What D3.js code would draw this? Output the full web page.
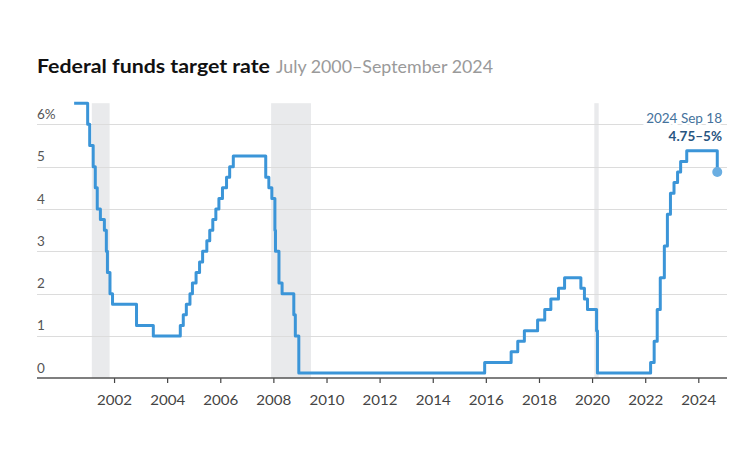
<!DOCTYPE html>
<html>
<head>
<meta charset="utf-8">
<script src="https://cdn.jsdelivr.net/npm/d3@7/dist/d3.min.js"></script>
<style>
  html, body { margin: 0; padding: 0; background: #fff; }
  svg { display: block; }
  text { font-family: Lato, "Open Sans", sans-serif; }
</style>
</head>
<body>
<svg id="chart" width="750" height="472"></svg>
<script>
// ---- Data ----
const titleText = "Federal funds target rate";
const subtitleText = "July 2000\u2013September 2024";

// Change dates of the target rate (midpoint of range after Dec 2008)
const dates = [
  "2000-07-01","2001-01-03","2001-01-31","2001-03-20","2001-04-18","2001-05-15",
  "2001-06-27","2001-08-21","2001-09-17","2001-10-02","2001-11-06","2001-12-11",
  "2002-11-06","2003-06-25","2004-06-30","2004-08-10","2004-09-21","2004-11-10",
  "2004-12-14","2005-02-02","2005-03-22","2005-05-03","2005-06-30","2005-08-09",
  "2005-09-20","2005-11-01","2005-12-13","2006-01-31","2006-03-28","2006-05-10",
  "2006-06-29","2007-09-18","2007-10-31","2007-12-11","2008-01-22","2008-01-30",
  "2008-03-18","2008-04-30","2008-10-08","2008-10-29","2008-12-16","2015-12-16",
  "2016-12-14","2017-03-15","2017-06-14","2017-12-13","2018-03-21","2018-06-13",
  "2018-09-26","2018-12-19","2019-07-31","2019-09-18","2019-10-30","2020-03-03",
  "2020-03-15","2022-03-16","2022-05-04","2022-06-15","2022-07-27","2022-09-21",
  "2022-11-02","2022-12-14","2023-02-01","2023-03-22","2023-05-03","2023-07-26",
  "2024-09-18"
];
const rates = [
  6.5, 6.0, 5.5, 5.0, 4.5, 4.0,
  3.75, 3.5, 3.0, 2.5, 2.0, 1.75,
  1.25, 1.0, 1.25, 1.5, 1.75, 2.0,
  2.25, 2.5, 2.75, 3.0, 3.25, 3.5,
  3.75, 4.0, 4.25, 4.5, 4.75, 5.0,
  5.25, 4.75, 4.5, 4.25, 3.5, 3.0,
  2.25, 2.0, 1.5, 1.0, 0.125, 0.375,
  0.625, 0.875, 1.125, 1.375, 1.625, 1.875,
  2.125, 2.375, 2.125, 1.875, 1.625, 1.125,
  0.125, 0.375, 0.875, 1.625, 2.375, 3.125,
  3.875, 4.375, 4.625, 4.875, 5.125, 5.375,
  4.875
];

// Recessions
const recessionStarts = ["2001-03-01", "2007-12-01", "2020-02-01"];
const recessionEnds   = ["2001-11-01", "2009-06-01", "2020-04-01"];

const yTickValues = [0, 1, 2, 3, 4, 5, 6];
const yTickLabels = ["0", "1", "2", "3", "4", "5", "6%"];
const xTickYears = [2002, 2004, 2006, 2008, 2010, 2012, 2014, 2016, 2018, 2020, 2022, 2024];

const annotationDate = "2024 Sep 18";
const annotationValue = "4.75\u20135%";

// ---- Chart ----
const parse = d3.timeParse("%Y-%m-%d");
const data = dates.map((d, i) => ({ date: parse(d), value: rates[i] }));

const svg = d3.select("#chart");
const gridLeft = 37, gridRight = 727;

const x = d3.scaleTime()
  .domain([new Date(2000, 0, 1), new Date(2024, 0, 1)])
  .range([60.9, 698.3]);
const y = d3.scaleLinear()
  .domain([0, 6.5])
  .range([378.3, 103.2]);

// Recession bands
svg.append("g").selectAll("rect")
  .data(recessionStarts.map((s, i) => ({ s: parse(s), e: parse(recessionEnds[i]) })))
  .join("rect")
  .attr("x", d => x(d.s))
  .attr("width", d => x(d.e) - x(d.s))
  .attr("y", y(6.5))
  .attr("height", y(0) - y(6.5))
  .attr("fill", "#e9eaec");

// Gridlines
svg.append("g").selectAll("line")
  .data(yTickValues.filter(v => v > 0))
  .join("line")
  .attr("x1", gridLeft).attr("x2", gridRight)
  .attr("y1", d => Math.round(y(d)) + 0.5).attr("y2", d => Math.round(y(d)) + 0.5)
  .attr("stroke", "#dcdcdc").attr("stroke-width", 1);

// Y labels
svg.append("g").selectAll("text")
  .data(yTickValues)
  .join("text")
  .attr("x", gridLeft)
  .attr("y", d => y(d) - 5.5)
  .attr("font-size", 13.5)
  .attr("fill", "#555")
  .text((d, i) => yTickLabels[i]);

// X axis
const xAxis = d3.axisBottom(x)
  .tickValues(xTickYears.map(yr => new Date(yr, 0, 1)))
  .tickFormat(d3.timeFormat("%Y"))
  .tickSize(5)
  .tickSizeOuter(0)
  .tickPadding(12);
const gx = svg.append("g")
  .attr("transform", `translate(0,${Math.round(y(0))})`)
  .call(xAxis);
gx.select(".domain").remove();
gx.selectAll(".tick line").attr("stroke", "#444").attr("stroke-width", 1.2);
gx.selectAll(".tick text")
  .attr("font-size", 14)
  .attr("fill", "#444")
  .attr("textLength", 35)
  .attr("lengthAdjust", "spacingAndGlyphs")
  .style("font-family", "Lato, 'Open Sans', sans-serif");
svg.append("line")
  .attr("x1", gridLeft).attr("x2", gridRight)
  .attr("y1", Math.round(y(0))).attr("y2", Math.round(y(0)))
  .attr("stroke", "#555").attr("stroke-width", 1.5);

// Line
const line = d3.line()
  .x(d => x(d.date))
  .y(d => y(d.value))
  .curve(d3.curveStepAfter);
svg.append("path")
  .datum(data)
  .attr("d", line)
  .attr("fill", "none")
  .attr("stroke", "#3b95d8")
  .attr("stroke-width", 3)
  .attr("stroke-linejoin", "round");

// End dot
const last = data[data.length - 1];
svg.append("circle")
  .attr("cx", x(last.date))
  .attr("cy", y(last.value))
  .attr("r", 5)
  .attr("fill", "#6aaee2");

// Annotation
const ann = svg.append("g").attr("text-anchor", "end");
ann.append("text")
  .attr("x", 722).attr("y", 123)
  .attr("font-size", 13.5)
  .attr("fill", "#44729c")
  .attr("stroke", "#fff").attr("stroke-width", 4).attr("paint-order", "stroke")
  .text(annotationDate);
ann.append("text")
  .attr("x", 722).attr("y", 140.5)
  .attr("font-size", 13.5)
  .attr("font-weight", "bold")
  .attr("fill", "#28557f")
  .attr("stroke", "#fff").attr("stroke-width", 4).attr("paint-order", "stroke")
  .text(annotationValue);

// Title
svg.append("text")
  .attr("x", 37).attr("y", 73)
  .attr("font-size", 18)
  .attr("font-weight", "bold")
  .attr("fill", "#111")
  .attr("textLength", 233)
  .attr("lengthAdjust", "spacingAndGlyphs")
  .text(titleText);
svg.append("text")
  .attr("x", 276).attr("y", 73)
  .attr("font-size", 16.5)
  .attr("fill", "#9a9a9a")
  .attr("textLength", 217)
  .attr("lengthAdjust", "spacingAndGlyphs")
  .text(subtitleText);
</script>
</body>
</html>
